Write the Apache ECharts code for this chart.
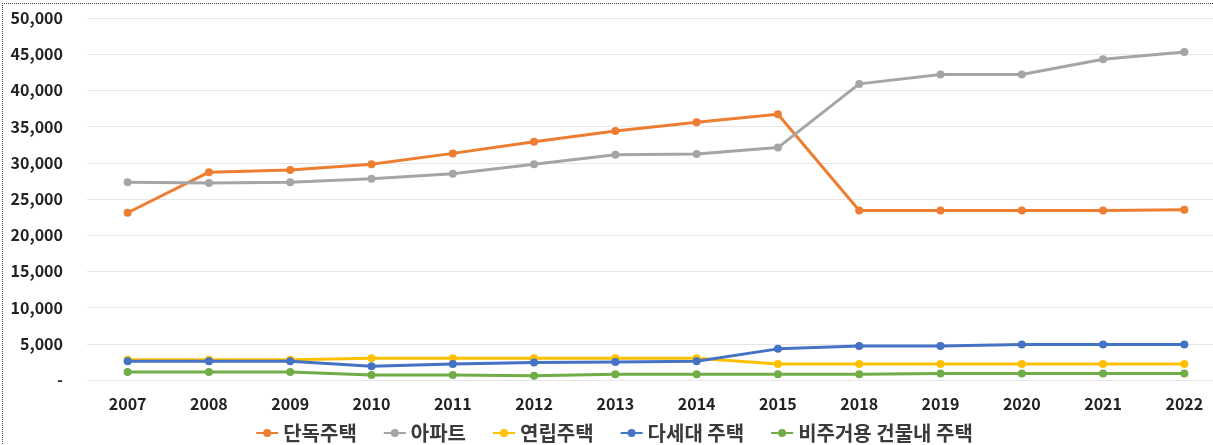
<!DOCTYPE html>
<html>
<head>
<meta charset="utf-8">
<script src="https://cdn.jsdelivr.net/npm/echarts@6/dist/echarts.min.js"></script>
<style>
html,body{margin:0;padding:0;background:#fff;overflow:hidden;}
#chart{position:absolute;left:2px;top:3px;width:1222px;height:442px;border-left:1px dotted #444;border-top:1px dotted #444;}
</style>
</head>
<body>
<div id="chart"></div>
<script>
var years = ['2007','2008','2009','2010','2011','2012','2013','2014','2015','2018','2019','2020','2021','2022'];
var detached = [23100,28700,29000,29800,31300,32900,34400,35600,36700,23400,23400,23400,23400,23500]; // 단독주택
var apartment = [27300,27200,27300,27800,28500,29800,31100,31200,32100,40900,42200,42200,44300,45300]; // 아파트
var rowHouse = [2800,2800,2800,3000,3000,3000,3000,3000,2200,2200,2200,2200,2200,2200]; // 연립주택
var multiplex = [2600,2600,2600,1900,2200,2400,2500,2600,4300,4700,4700,4900,4900,4900]; // 다세대 주택
var nonResid = [1100,1100,1100,700,700,600,800,800,800,800,900,900,900,900]; // 비주거용 건물내 주택
var seriesNames = ['단독주택','아파트','연립주택','다세대 주택','비주거용 건물내 주택'];
var seriesColors = ['#ED7D31','#A5A5A5','#FFC000','#4472C4','#70AD47'];

var chart = echarts.init(document.getElementById('chart'));
var allData = [detached, apartment, rowHouse, multiplex, nonResid];
var Series = [];
for (var i = 0; i < allData.length; i++) {
    Series.push({
        name: seriesNames[i],
        type: 'line',
        data: allData[i],
        symbol: 'circle',
        symbolSize: 8,
        lineStyle: {width: 3, color: seriesColors[i]},
        itemStyle: {color: seriesColors[i]},
        z: (i == 2) ? 1 : 2
    });
}
var fontKr = '"Noto Sans CJK KR", "Noto Sans", sans-serif';
chart.setOption({
    animation: false,
    color: seriesColors,
    grid: {left: 84, right: 0, top: 14, bottom: 66},
    legend: {
        top: 414,
        left: 'center',
        itemWidth: 22,
        itemHeight: 10,
        itemGap: 26,
        textStyle: {fontSize: 20, fontWeight: 'bold', color: '#3a3a3a', fontFamily: fontKr},
        data: seriesNames
    },
    xAxis: {
        type: 'category',
        data: years,
        boundaryGap: true,
        axisLine: {show: false},
        axisTick: {show: false},
        axisLabel: {fontSize: 16, fontWeight: 'bold', color: '#222', margin: 16, fontFamily: fontKr}
    },
    yAxis: {
        type: 'value',
        min: 0,
        max: 50000,
        interval: 5000,
        axisLine: {show: false},
        axisTick: {show: false},
        splitLine: {lineStyle: {color: '#e6e6e6', width: 1}},
        axisLabel: {
            fontSize: 16, fontWeight: 'bold', color: '#222', margin: 24, fontFamily: fontKr,
            formatter: function (v) {
                if (v == 0) return '-';
                return v.toString().replace(/\B(?=(\d{3})+(?!\d))/g, ',');
            }
        }
    },
    series: Series
});
</script>
</body>
</html>
